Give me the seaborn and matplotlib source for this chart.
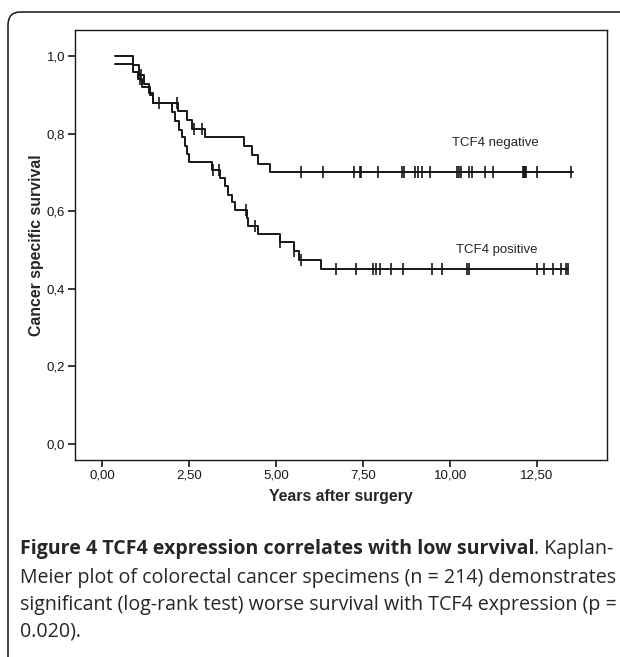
"""
Kaplan-Meier curves: TCF4 negative vs TCF4 positive
"""

import numpy as np
import pandas as pd
import matplotlib
matplotlib.use("Agg")
import matplotlib.pyplot as plt
from matplotlib.patches import FancyBboxPatch
import seaborn as sns

sns.set_style("ticks")
plt.rcParams["font.family"] = ["Liberation Sans", "DejaVu Sans"]

# -------------------------------------------------------
# Data
# -------------------------------------------------------

neg_time = [0.37, 0.90, 1.05, 1.20, 1.35, 1.47, 2.19, 2.43, 2.58, 2.96,
            4.07, 4.32, 4.47, 4.82, 13.53]
neg_surv = [1.000, 0.976, 0.952, 0.928, 0.904, 0.880, 0.857, 0.835, 0.813,
            0.791, 0.768, 0.746, 0.723, 0.700, 0.700]
neg_censor = [1.12, 1.62, 2.15, 2.65, 2.88, 5.71, 6.36, 7.24, 7.41, 7.45,
              7.93, 8.62, 8.68, 9.00, 9.09, 9.18, 9.41, 10.19, 10.25, 10.32,
              10.54, 10.62, 10.99, 11.24, 12.10, 12.13, 12.16, 12.19, 12.49,
              13.47]

pos_time = [0.37, 0.90, 1.04, 1.15, 1.38, 1.47, 2.00, 2.08, 2.20, 2.30,
            2.39, 2.45, 2.50, 3.17, 3.40, 3.53, 3.63, 3.73, 3.82, 4.15,
            4.20, 4.49, 5.10, 5.50, 5.65, 6.30, 13.40]
pos_surv = [0.980, 0.960, 0.940, 0.920, 0.900, 0.880, 0.855, 0.832, 0.810,
            0.790, 0.768, 0.747, 0.726, 0.706, 0.686, 0.664, 0.643, 0.623,
            0.603, 0.583, 0.563, 0.541, 0.521, 0.498, 0.474, 0.450, 0.450]
pos_censor = [1.10, 3.20, 3.36, 4.14, 4.40, 5.12, 5.50, 5.72, 6.72, 7.30,
              7.78, 7.87, 7.98, 8.30, 8.66, 9.47, 9.76, 10.48, 10.53, 12.49,
              12.70, 12.95, 13.20, 13.32, 13.38]

y_ticks = [0.0, 0.2, 0.4, 0.6, 0.8, 1.0]
y_tick_labels = ["0,0", "0,2", "0,4", "0,6", "0,8", "1,0"]
x_ticks = [0.0, 2.5, 5.0, 7.5, 10.0, 12.5]
x_tick_labels = ["0,00", "2,50", "5,00", "7,50", "10,00", "12,50"]


def censor_points(times, surv, censor, group):
    idx = np.searchsorted(times, censor, side="right") - 1
    return pd.DataFrame({
        "time": censor,
        "surv": np.asarray(surv)[idx],
        "group": group,
    })


curves = pd.concat([
    pd.DataFrame({"time": neg_time, "surv": neg_surv, "group": "TCF4 negative"}),
    pd.DataFrame({"time": pos_time, "surv": pos_surv, "group": "TCF4 positive"}),
], ignore_index=True)

censors = pd.concat([
    censor_points(neg_time, neg_surv, neg_censor, "TCF4 negative"),
    censor_points(pos_time, pos_surv, pos_censor, "TCF4 positive"),
], ignore_index=True)

# -------------------------------------------------------
# Figure
# -------------------------------------------------------

W, H = 620, 657
fig = plt.figure(figsize=(W / 100, H / 100), dpi=100)
# frame: x 75..607 px, y 30..460 px
ax = fig.add_axes([75 / W, 1 - 460 / H, 532 / W, 430 / H])

sns.lineplot(
    data=curves, x="time", y="surv", hue="group",
    palette=["#161616", "#161616"], estimator=None, sort=False,
    drawstyle="steps-post", linewidth=1.4, legend=False, ax=ax,
)
sns.scatterplot(
    data=censors, x="time", y="surv", marker="|", s=70,
    color="#161616", linewidth=1.2, legend=False, ax=ax,
)

# 1,0 at ~56 px, 0,0 at ~444 px
ax.set_xlim(-0.78, 14.51)
ax.set_ylim(-0.041, 1.067)
ax.set_yticks(y_ticks)
ax.set_yticklabels(y_tick_labels)
ax.set_xticks(x_ticks)
ax.set_xticklabels(x_tick_labels)
ax.tick_params(direction="out", length=5, width=1.2, labelsize=9.5,
               colors="#161616", pad=2)
for side in ["top", "right", "left", "bottom"]:
    ax.spines[side].set_visible(True)
    ax.spines[side].set_linewidth(1.0)
    ax.spines[side].set_color("#161616")

ax.set_xlabel("Years after surgery", fontsize=11.4, fontweight="bold",
              labelpad=5)
ax.set_ylabel("Cancer specific survival", fontsize=11.4, fontweight="bold",
              labelpad=2)

ax.text(11.29, 0.777, "TCF4 negative", ha="center", va="center", fontsize=9.5)
ax.text(11.35, 0.500, "TCF4 positive", ha="center", va="center", fontsize=9.5)

# outer rounded panel border
panel = FancyBboxPatch(
    (8 / W, -0.2), 1.2, 1 - 12 / H + 0.2,
    boxstyle="round,pad=0,rounding_size=0.02",
    transform=fig.transFigure, fill=False, edgecolor="#161616",
    linewidth=1.1, clip_on=False,
)
fig.patches.append(panel)

# caption
cap_font = ["Open Sans", "DejaVu Sans"]
cap_size = 14.1
x0 = 20 / W
bold = fig.text(x0, 1 - 549 / H,
                "Figure 4 TCF4 expression correlates with low survival",
                fontsize=cap_size, fontweight="bold", family=cap_font,
                va="center", ha="left")
fig.canvas.draw()
bb = bold.get_window_extent().transformed(fig.transFigure.inverted())
fig.text(bb.x1, 1 - 549 / H, ". Kaplan-", fontsize=cap_size,
         family=cap_font, va="center", ha="left")
caption_lines = [
    "Meier plot of colorectal cancer specimens (n = 214) demonstrates",
    "significant (log-rank test) worse survival with TCF4 expression (p =",
    "0.020).",
]
for i, line in enumerate(caption_lines):
    fig.text(x0, 1 - (578 + 27 * i) / H, line, fontsize=cap_size,
             family=cap_font, va="center", ha="left")

fig.savefig("out.png", dpi=100)
